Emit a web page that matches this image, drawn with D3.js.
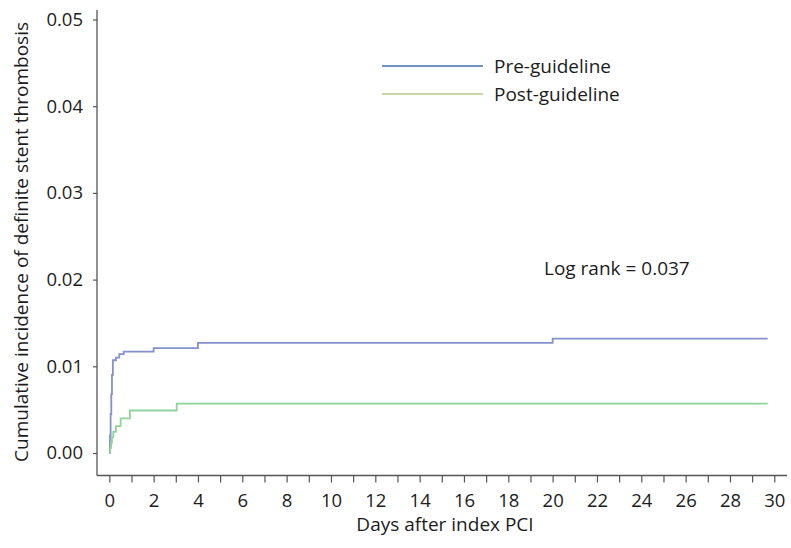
<!DOCTYPE html>
<html><head><meta charset="utf-8">
<script src="https://cdn.jsdelivr.net/npm/d3@7"></script>
<style>body{margin:0;background:#fff}svg{display:block}text{font-family:"Open Sans",sans-serif;fill:#1c1c1c}</style>
</head><body><svg id="c" width="791" height="548"></svg>
<script>
const yTicks = [0, 0.01, 0.02, 0.03, 0.04, 0.05];
const xTicks = d3.range(0, 31, 2);
const xMinorTicks = d3.range(0, 31, 1);
const preTimes  = [0, 0.03, 0.06, 0.09, 0.12, 0.16, 0.3, 0.45, 0.65, 2, 4, 20, 29.7];
const preValues = [0, 0.002, 0.0045, 0.0068, 0.009, 0.0107, 0.0110, 0.0114, 0.0117, 0.0121, 0.0127, 0.0132, 0.0132];
const postTimes  = [0, 0.04, 0.08, 0.12, 0.18, 0.3, 0.51, 0.93, 3.04, 29.7];
const postValues = [0, 0.0006, 0.0012, 0.0018, 0.00245, 0.0031, 0.0040, 0.0049, 0.0057, 0.0057];
const seriesNames = ["Pre-guideline", "Post-guideline"];
const logRank = "Log rank = 0.037";

const svg = d3.select("#c");
const x = d3.scaleLinear().domain([0, 30]).range([109.3, 774.3]);
const y = d3.scaleLinear().domain([0, 0.05]).range([453, 19.5]);
const axisColor = "#555";
const fontStack = "\"Open Sans\",sans-serif";

svg.append("line").attr("x1", 97).attr("x2", 97).attr("y1", 10).attr("y2", 475.5).attr("stroke", axisColor).attr("stroke-width", 1.3);
svg.append("line").attr("x1", 97).attr("x2", 787).attr("y1", 475.5).attr("y2", 475.5).attr("stroke", axisColor).attr("stroke-width", 1.3);

const yAxis = svg.append("g").attr("transform", "translate(97,0)")
  .call(d3.axisLeft(y).tickValues(yTicks).tickFormat(d3.format(".2f")).tickSize(4).tickPadding(10));
yAxis.select(".domain").remove();
yAxis.selectAll("line").attr("stroke", axisColor).attr("stroke-width", 1.2);
yAxis.selectAll("text").style("font-size", "18.5px").style("font-family", fontStack).attr("fill", "#1c1c1c");

const xMinor = svg.append("g").attr("transform", "translate(0,475.5)")
  .call(d3.axisBottom(x).tickValues(xMinorTicks).tickFormat("").tickSize(7));
xMinor.select(".domain").remove();
xMinor.selectAll("line").attr("stroke", axisColor).attr("stroke-width", 1.2);
const xAxis = svg.append("g").attr("transform", "translate(0,475.5)")
  .call(d3.axisBottom(x).tickValues(xTicks).tickFormat(d3.format("d")).tickSize(0).tickPadding(18));
xAxis.select(".domain").remove();
xAxis.selectAll("text").style("font-size", "18.5px").style("font-family", fontStack).attr("fill", "#1c1c1c");

svg.append("text").attr("x", 445).attr("y", 531).attr("text-anchor", "middle").style("font-size", "19px").text("Days after index PCI");
svg.append("text").attr("transform", "translate(28,242) rotate(-90)").attr("text-anchor", "middle").style("font-size", "19px").text("Cumulative incidence of definite stent thrombosis");

const line = d3.line().x(d => x(d[0])).y(d => y(d[1])).curve(d3.curveStepAfter);
const pre = preTimes.map((t, i) => [t, preValues[i]]);
const post = postTimes.map((t, i) => [t, postValues[i]]);
svg.append("path").attr("d", line(pre)).attr("fill", "none").attr("stroke", "#8391cc").attr("stroke-width", 1.8);
svg.append("path").attr("d", line(post)).attr("fill", "none").attr("stroke", "#8ed49b").attr("stroke-width", 1.8);

const legColors = ["#6b93c6", "#c8d6a6"];
seriesNames.forEach((n, i) => {
  const ly = 66 + i * 28;
  svg.append("line").attr("x1", 382).attr("x2", 483).attr("y1", ly).attr("y2", ly).attr("stroke", legColors[i]).attr("stroke-width", 2);
  svg.append("text").attr("x", 494).attr("y", ly + 7).style("font-size", "19px").text(n);
});

svg.append("text").attr("x", 544).attr("y", 275).style("font-size", "19px").text(logRank);
</script></body></html>
